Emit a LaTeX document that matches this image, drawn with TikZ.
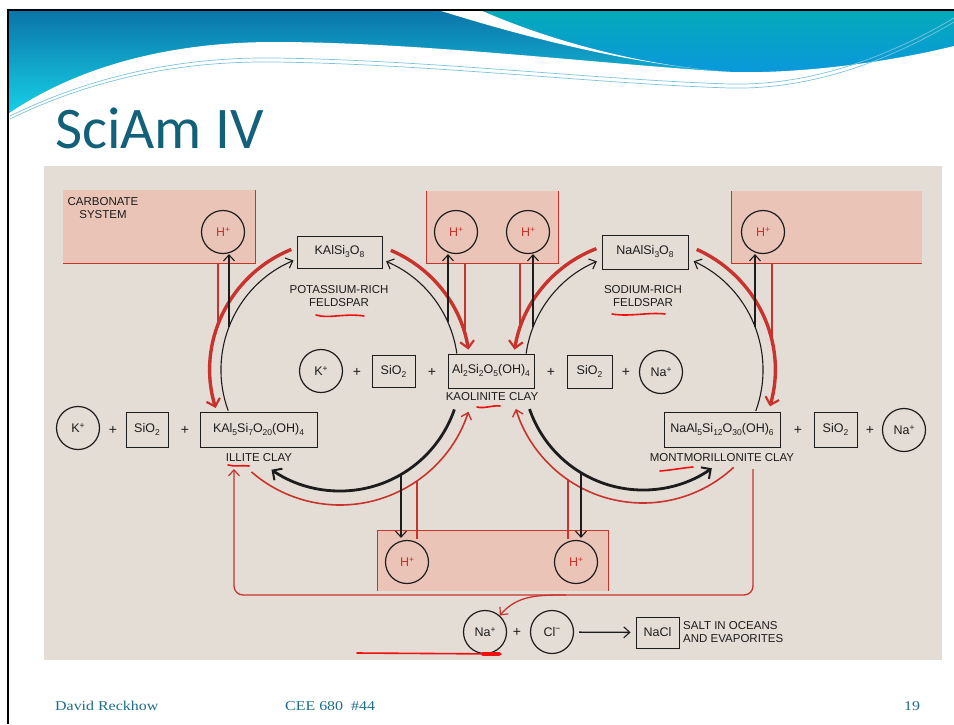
\documentclass[tikz,border=0pt]{standalone}
\usepackage{graphicx}
\usepackage{fontspec}
\setmainfont{Liberation Sans}
\newfontfamily\titlefont{Carlito}
\newfontfamily\footfont{Liberation Serif}
\usetikzlibrary{arrows.meta}
\definecolor{hdA}{HTML}{0B74A8}
\definecolor{hdB}{HTML}{18D6EC}
\definecolor{hdC}{HTML}{04AAB9}
\definecolor{hdD}{HTML}{0A98DC}
\definecolor{thinblue}{HTML}{7CC4DE}
\definecolor{titlec}{HTML}{12607A}
\definecolor{footc}{HTML}{1E6E8C}
\definecolor{paper}{HTML}{E4DDD6}
\definecolor{pinkf}{HTML}{EAC4B7}
\definecolor{rd}{HTML}{C8332D}
\definecolor{ink}{HTML}{1C1C1C}
\definecolor{hand}{HTML}{F01010}
\newcommand{\csub}[1]{\raisebox{-3pt}{\fontsize{8.5}{9}\selectfont #1}}
\newcommand{\csup}[1]{\raisebox{4.5pt}{\fontsize{8.5}{9}\selectfont #1}}
\tikzset{
  formbox/.style={draw=ink, line width=0.9pt, inner sep=0pt, text=ink, font=\fontsize{12.5}{13}\selectfont},
  ion/.style={circle, draw=ink, line width=1.2pt, minimum size=43pt, inner sep=0pt, text=ink, font=\fontsize{12.5}{13}\selectfont},
  hion/.style={ion, text=rd},
  lbl/.style={font=\fontsize{11.5}{12.5}\selectfont, align=center, inner sep=0pt, text=ink},
  plus/.style={font=\fontsize{14}{14}\selectfont, inner sep=0pt, text=ink},
  pinkbox/.style={fill=pinkf, draw=none, inner sep=0pt},
  pinkedge/.style={draw=rd, line width=0.8pt},
  blkthin/.style={draw=ink, line width=1.1pt, -{Straight Barb[length=6pt,width=11pt,line width=1.1pt]}},
  redthick/.style={draw=rd, line width=3.4pt, -{Straight Barb[length=7pt,width=14pt,line width=2.2pt]}},
  blkthick/.style={draw=ink, line width=2.8pt, -{Straight Barb[length=7pt,width=14pt,line width=2pt]}},
  redthin/.style={draw=rd, line width=1.6pt, -{Straight Barb[length=6pt,width=11pt,line width=1.4pt]}},
  redline/.style={draw=rd, line width=1.3pt},
  blkarrow/.style={draw=ink, line width=1.1pt, -{Straight Barb[length=6pt,width=11pt,line width=1.1pt]}},
  redloop/.style={draw=rd, line width=1.3pt, -{Straight Barb[length=6pt,width=11pt,line width=1.2pt]}},
  handline/.style={draw=hand, line width=1.6pt, line cap=round},
  thinwave/.style={draw=thinblue, line width=0.7pt}
}
\begin{document}
\begin{tikzpicture}[x=1pt,y=1pt]
\useasboundingbox (0,0) rectangle (954,-724);
\fill[white] (0,0) rectangle (954,-724);
% header
\shade[top color=hdA, bottom color=hdB] (8,-10) rectangle (954,-120);
\shade[top color=hdC, bottom color=hdD] (480,-10) .. controls (560,-45) and (650,-66) .. (730,-72) .. controls (800,-74) and (890,-62) .. (954,-46) -- (954,-10) -- cycle;
\fill[white] (438,-10) .. controls (540,-42) and (640,-65) .. (730,-72) .. controls (650,-66) and (560,-45) .. (480,-10) -- cycle;
\fill[white] (8,-114) .. controls (90,-58) and (190,-42) .. (274,-42) .. controls (420,-42) and (600,-64) .. (730,-72) .. controls (800,-74) and (890,-62) .. (954,-46) -- (954,-122) -- (8,-122) -- cycle;
\draw[thinwave] (10,-116) .. controls (100,-72) and (190,-57) .. (274,-58) .. controls (430,-60) and (600,-80) .. (730,-84) .. controls (820,-86) and (900,-50) .. (954,-18);
\draw[thinwave] (10,-119) .. controls (100,-75) and (190,-61) .. (274,-62) .. controls (430,-64) and (600,-84) .. (730,-88) .. controls (820,-90) and (900,-54) .. (954,-22);
\draw[black, line width=2pt] (8,-724) -- (8,-10) -- (954,-10);
% title and footer
\node[anchor=base west, inner sep=0pt, text=titlec, font=\titlefont\fontsize{59}{59}\selectfont] (title) at (55,-148) {SciAm IV};
\node[anchor=base west, inner sep=0pt, text=footc, font=\footfont\fontsize{13.5}{14}\selectfont] (f1) at (55,-710) {\scalebox{1.18}[1]{David Reckhow}};
\node[anchor=base west, inner sep=0pt, text=footc, font=\footfont\fontsize{13.5}{14}\selectfont] (f2) at (285,-710) {\scalebox{1.18}[1]{CEE 680\ \ \#44}};
\node[anchor=base west, inner sep=0pt, text=footc, font=\footfont\fontsize{13.5}{14}\selectfont] (f3) at (904,-710) {\scalebox{1.18}[1]{19}};
% diagram paper
\fill[paper] (44,-166) rectangle (942,-660);
% pink boxes
\node[pinkbox, minimum width=192pt, minimum height=73pt] (pb1) at (159,-226.5) {};
\node[pinkbox, minimum width=131pt, minimum height=72pt] (pb2) at (492.5,-227) {};
\node[pinkbox, minimum width=190pt, minimum height=72pt] (pb3) at (827,-227) {};
\node[pinkbox, minimum width=230pt, minimum height=60pt] (pb4) at (493,-561) {};
\draw[pinkedge] (pb1.north east) -- (pb1.south east) -- (pb1.south west);
\draw[pinkedge] (pb2.north west) -- (pb2.south west) -- (pb2.south east) -- (pb2.north east);
\draw[pinkedge] (pb3.north west) -- (pb3.south west) -- (pb3.south east);
\draw[pinkedge] (pb4.south west) -- (pb4.north west) -- (pb4.north east) -- (pb4.south east);
\node[lbl] (carb) at (103,-208) {CARBONATE\\SYSTEM};
% H+ circles
\node[hion] (h1) at (223,-232) {H\csup{+}};
\node[hion] (h2) at (456,-232) {H\csup{+}};
\node[hion] (h3) at (528,-232) {H\csup{+}};
\node[hion] (h4) at (763,-232) {H\csup{+}};
\node[hion] (h5) at (407,-562) {H\csup{+}};
\node[hion] (h6) at (576,-562) {H\csup{+}};
% minerals
\node[formbox, minimum width=85pt, minimum height=32pt] (kfs) at (339.5,-252) {KAlSi\csub{3}O\csub{8}};
\node[formbox, minimum width=86pt, minimum height=34pt] (nafs) at (645,-252) {NaAlSi\csub{3}O\csub{8}};
\node[formbox, minimum width=86pt, minimum height=34pt] (kao) at (491,-371) {Al\csub{2}Si\csub{2}O\csub{5}(OH)\csub{4}};
\node[formbox, minimum width=117pt, minimum height=35pt] (ill) at (258.5,-429.5) {KAl\csub{5}Si\csub{7}O\csub{20}(OH)\csub{4}};
\node[formbox, minimum width=116pt, minimum height=35pt] (mont) at (722,-429.5) {NaAl\csub{5}Si\csub{12}O\csub{30}(OH)\csub{6}};
\node[formbox, minimum width=43pt, minimum height=32pt] (si1) at (393.5,-371) {SiO\csub{2}};
\node[formbox, minimum width=45pt, minimum height=33pt] (si2) at (589.5,-371.5) {SiO\csub{2}};
\node[formbox, minimum width=42pt, minimum height=35pt] (si3) at (147,-429.5) {SiO\csub{2}};
\node[formbox, minimum width=43pt, minimum height=35pt] (si4) at (835.5,-429.5) {SiO\csub{2}};
\node[formbox, minimum width=43pt, minimum height=31pt] (nacl) at (657.5,-632.5) {NaCl};
% ions
\node[ion] (kp1) at (321,-371) {K\csup{+}};
\node[ion] (nap1) at (661,-372) {Na\csup{+}};
\node[ion] (kp2) at (78,-428) {K\csup{+}};
\node[ion] (nap2) at (904,-430) {Na\csup{+}};
\node[ion] (nab) at (485,-632) {Na\csup{+}};
\node[ion] (cl) at (552,-632) {Cl\csup{−}};
% pluses
\node[plus] (p1) at (357,-372) {+};
\node[plus] (p2) at (432,-372) {+};
\node[plus] (p3) at (551,-372) {+};
\node[plus] (p4) at (626,-372) {+};
\node[plus] (p5) at (113,-430) {+};
\node[plus] (p6) at (185,-430) {+};
\node[plus] (p7) at (798,-430) {+};
\node[plus] (p8) at (870,-430) {+};
\node[plus] (p9) at (517,-632) {+};
% labels
\node[lbl] (kfsl) at (339,-296) {POTASSIUM-RICH\\FELDSPAR};
\node[lbl] (nafsl) at (643,-296) {SODIUM-RICH\\FELDSPAR};
\node[lbl] (kaol) at (492,-397) {KAOLINITE CLAY};
\node[lbl] (illl) at (259,-458) {ILLITE CLAY};
\node[lbl] (montl) at (722,-458) {MONTMORILLONITE CLAY};
\node[lbl, anchor=west, align=left] (saltl) at (683,-632) {SALT IN OCEANS\\AND EVAPORITES};
% cycle centres
\coordinate (C1) at (340,-370);
\coordinate (C2) at (643,-370);
% left cycle
\draw[blkthin] ([shift={(200:119pt)}]C1) arc[start angle=200, end angle=113, radius=119pt];
\draw[blkthin] ([shift={(8:118pt)}]C1) arc[start angle=8, end angle=67, radius=118pt];
\draw[redthick] ([shift={(112:130pt)}]C1) arc[start angle=112, end angle=197, radius=130pt];
\draw[redthick] ([shift={(67:130pt)}]C1) arc[start angle=67, end angle=9, radius=130pt];
\draw[blkthick] ([shift={(-19:121pt)}]C1) arc[start angle=-19, end angle=-124.5, radius=121pt];
\draw[redthin] ([shift={(-131:135pt)}]C1) arc[start angle=-131, end angle=-18, radius=135pt];
% right cycle
\draw[blkthin] ([shift={(172:118pt)}]C2) arc[start angle=172, end angle=113, radius=118pt];
\draw[blkthin] ([shift={(-20:120pt)}]C2) arc[start angle=-20, end angle=65, radius=120pt];
\draw[redthick] ([shift={(111:130pt)}]C2) arc[start angle=111, end angle=171, radius=130pt];
\draw[redthick] ([shift={(66:132pt)}]C2) arc[start angle=66, end angle=-16, radius=132pt];
\draw[blkthick] ([shift={(-161:120pt)}]C2) arc[start angle=-161, end angle=-55, radius=120pt];
\draw[redthin] ([shift={(-47:133pt)}]C2) arc[start angle=-47, end angle=-163, radius=133pt];
% vertical links to H+
\coordinate (b1) at (229,-327);
\coordinate (r1) at (218,-325);
\coordinate (b2) at (448,-322);
\coordinate (r2) at (465,-334);
\coordinate (r3) at (520,-328);
\coordinate (b3) at (533,-327);
\coordinate (b4) at (755,-327);
\coordinate (r4) at (772,-342);
\coordinate (b5) at (401,-474);
\coordinate (r5) at (417,-481);
\coordinate (r5e) at (417,-539);
\coordinate (r6) at (568,-480);
\coordinate (r6e) at (568,-539);
\coordinate (b6) at (581,-473);
\draw[blkarrow] (b1) -- (b1 |- h1.south);
\draw[redline] (r1 |- pb1.south) -- (r1);
\draw[blkarrow] (b2) -- (b2 |- h2.south);
\draw[redline] (r2 |- pb2.south) -- (r2);
\draw[redline] (r3 |- pb2.south) -- (r3);
\draw[blkarrow] (b3) -- (b3 |- h3.south);
\draw[blkarrow] (b4) -- (b4 |- h4.south);
\draw[redline] (r4 |- pb3.south) -- (r4);
\draw[blkarrow, shorten >=2pt] (b5) -- (b5 |- h5.north);
\draw[redline] (r5) -- (r5e);
\draw[redline] (r6) -- (r6e);
\draw[blkarrow, shorten >=2pt] (b6) -- (b6 |- h6.north);
% red return loop
\coordinate (rl1) at (753,-469);
\coordinate (rl2) at (234,-469);
\coordinate (rlb) at (0,-595);
\coordinate (rlj) at (566,-595);
\draw[redloop, rounded corners=9pt] (rl1) -- (rl1 |- rlb) -- (rl2 |- rlb) -- (rl2);
\draw[redloop] (rlj) to[out=180, in=50] (nab.48);
% salt
\draw[blkarrow, line width=1.3pt, shorten <=5pt, shorten >=5pt] (cl) -- (nacl);
% hand-drawn underlines
\draw[handline] (316,-315) .. controls (328,-319) and (345,-313) .. (364,-316);
\draw[handline] (612,-314) .. controls (630,-317) and (648,-312) .. (665,-314);
\draw[handline] (477,-407) .. controls (485,-409) and (492,-405) .. (500,-406);
\draw[handline] (228,-465) .. controls (235,-467) and (242,-465) .. (249,-466);
\draw[handline] (660,-471) .. controls (672,-470) and (682,-468) .. (693,-467);
\draw[handline, line width=1.6pt] (357,-653) -- (501,-654);
\draw[handline, line width=3.6pt] (483,-654) -- (499,-654);
\end{tikzpicture}
\end{document}
